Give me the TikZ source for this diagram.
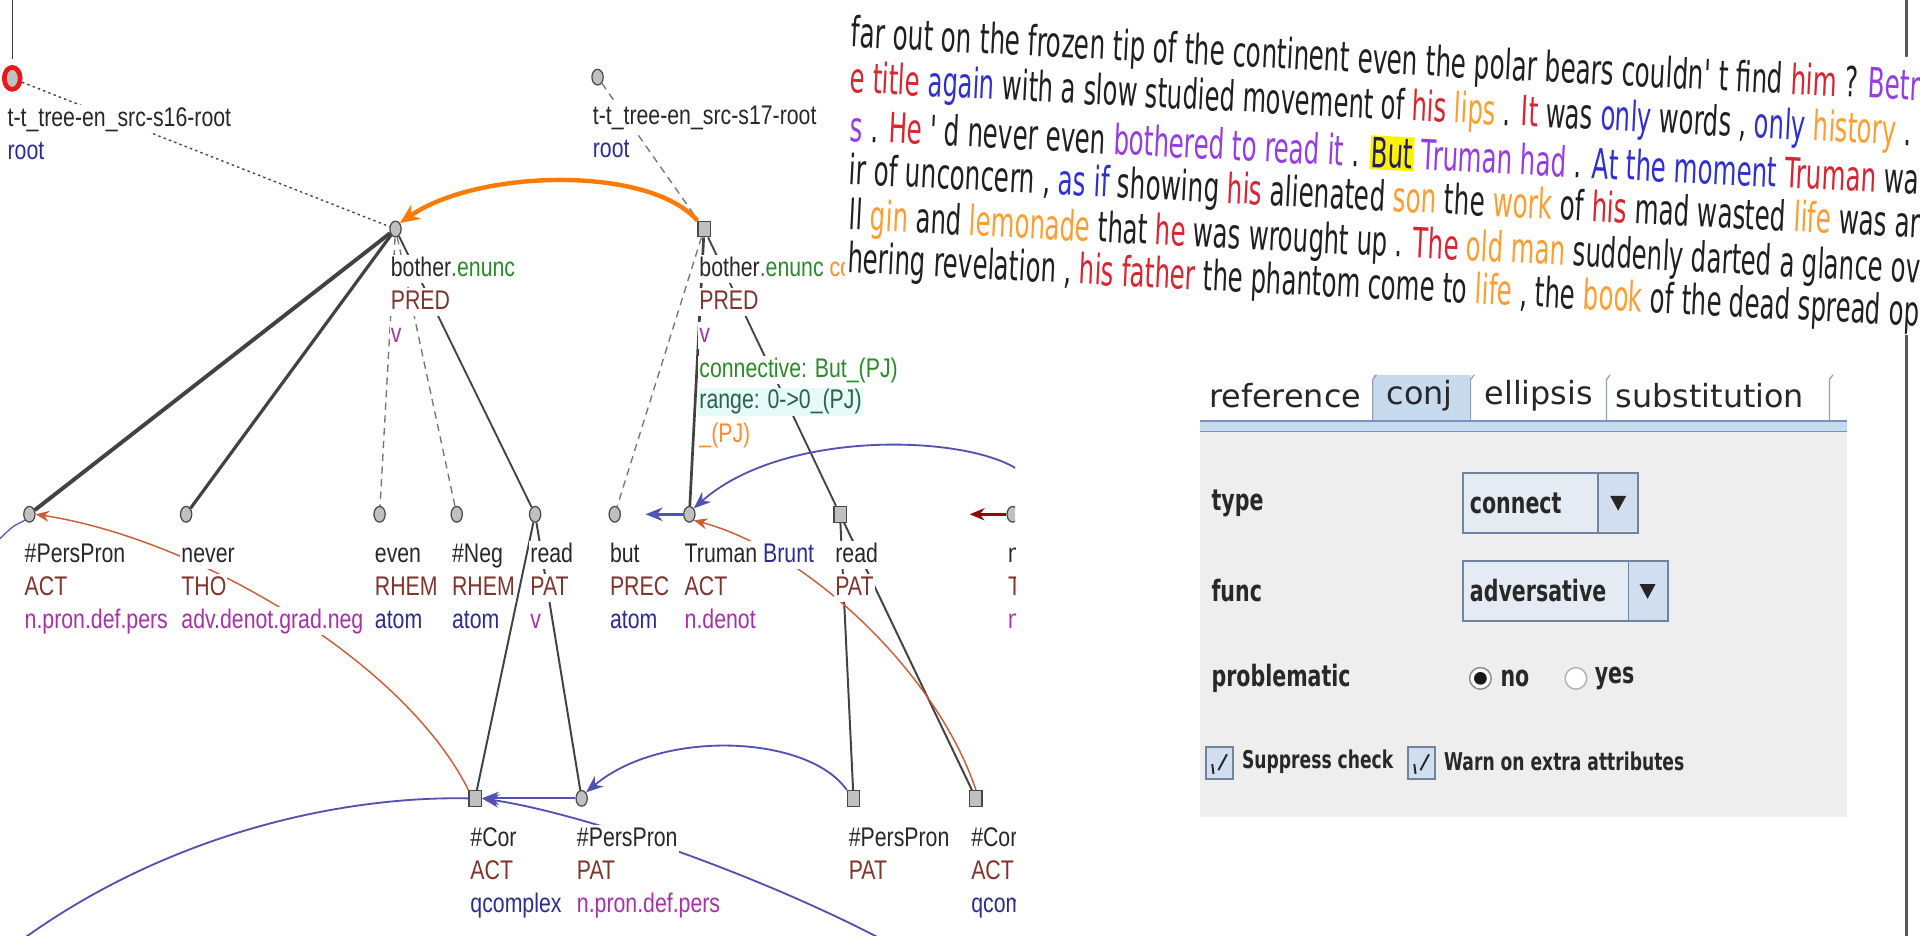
\documentclass[tikz,border=0pt]{standalone}
\usepackage{fontspec}
\usepackage{graphicx}
\setmainfont{Liberation Sans}
\newfontfamily\treefont{Liberation Sans}[FakeStretch=0.79]
\newfontfamily\panelfont{DejaVu Sans}
\newfontfamily\guifont{DejaVu Sans}[FakeStretch=0.7]
\newfontfamily\tabfont{DejaVu Sans}
\usetikzlibrary{shapes.geometric,arrows.meta}

% tree colours
\definecolor{edgegrey}{RGB}{66,66,66}
\definecolor{dashgrey}{RGB}{118,118,118}
\definecolor{nodegrey}{RGB}{192,192,192}
\definecolor{nodeborder}{RGB}{72,72,72}
\definecolor{lblblack}{RGB}{40,40,40}
\definecolor{functor}{RGB}{128,52,44}
\definecolor{sempos}{RGB}{168,48,168}
\definecolor{navy}{RGB}{44,44,150}
\definecolor{enuncgreen}{RGB}{40,140,40}
\definecolor{connorange}{RGB}{255,122,0}
\definecolor{pjorange}{RGB}{255,140,50}
\definecolor{corefbrown}{RGB}{205,95,55}
\definecolor{corefblue}{RGB}{82,82,180}
\definecolor{darkred}{RGB}{140,10,10}
\definecolor{rangebg}{RGB}{230,250,250}
\definecolor{rangegreen}{RGB}{40,100,70}
\definecolor{rootred}{RGB}{232,24,24}
% running text colours
\definecolor{txtblack}{RGB}{32,32,32}
\definecolor{txtred}{RGB}{218,36,48}
\definecolor{txtorange}{RGB}{255,158,48}
\definecolor{txtblue}{RGB}{48,48,210}
\definecolor{txtpurple}{RGB}{150,60,230}
\definecolor{butcol}{RGB}{30,30,100}
% form colours
\definecolor{guibg}{RGB}{238,238,238}
\definecolor{guitext}{RGB}{40,40,40}
\definecolor{tabblue}{RGB}{200,218,238}
\definecolor{tabline}{RGB}{118,148,190}
\definecolor{tabsep}{RGB}{150,160,176}
\definecolor{comboborder}{RGB}{112,132,160}
\definecolor{combofill}{RGB}{228,235,243}
\definecolor{buttonfill}{RGB}{208,222,240}
\definecolor{bordergrey}{RGB}{88,88,88}

\newcommand\wred[1]{\textcolor{txtred}{#1}}
\newcommand\worg[1]{\textcolor{txtorange}{#1}}
\newcommand\wblu[1]{\textcolor{txtblue}{#1}}
\newcommand\wpur[1]{\textcolor{txtpurple}{#1}}

\tikzset{
  tnode/.style={ellipse, draw=nodeborder, fill=nodegrey, line width=0.5pt,
    minimum width=4.6pt, minimum height=6.4pt, inner sep=0pt},
  tsq/.style={rectangle, draw=nodeborder, fill=nodegrey, line width=0.5pt,
    minimum width=5pt, minimum height=6.4pt, inner sep=0pt},
  rootnode/.style={ellipse, draw=rootred, fill=nodegrey, line width=1.9pt,
    minimum width=6.5pt, minimum height=9pt, inner sep=0pt},
  lbl/.style={anchor=west, fill=white, inner sep=0.4pt, text=lblblack,
    font=\treefont\fontsize{11}{12}\selectfont, text height=8.3pt, text depth=2.3pt},
  edge/.style={draw=edgegrey, line width=0.8pt},
  dashedge/.style={draw=dashgrey, line width=0.55pt, dash pattern=on 3pt off 2.2pt},
  dotedge/.style={draw=edgegrey, line width=0.55pt, dash pattern=on 1pt off 1.3pt},
  connarrow/.style={draw=connorange, line width=1.8pt, -{Stealth[length=8pt,width=7pt]}},
  brownarrow/.style={draw=corefbrown, line width=0.6pt, -{Stealth[length=5.5pt,width=4.5pt]}},
  bluearrow/.style={draw=corefblue, line width=0.75pt, -{Stealth[length=7pt,width=5.5pt]}},
  blueline/.style={draw=corefblue, line width=0.75pt},
  redarrow/.style={draw=darkred, line width=1pt, -{Stealth[length=6pt,width=5pt]}},
  panelline/.style={anchor=west, rotate=-2.87, inner sep=0pt, text=txtblack,
    font=\panelfont\fontsize{17}{20}\selectfont},
  guilbl/.style={anchor=west, inner sep=0pt, text=guitext,
    font=\guifont\bfseries\fontsize{12}{14}\selectfont},
  guismall/.style={anchor=west, inner sep=0pt, text=guitext,
    font=\guifont\bfseries\fontsize{10}{12}\selectfont},
  tabtxt/.style={anchor=west, inner sep=0pt, text=guitext,
    font=\tabfont\fontsize{13}{15}\selectfont},
}

% three text rows under a tree node: word, functor, semantic class
\newcommand\labthree[4]{%
  \node[lbl] (#1-a) at ([xshift=-2.5pt,yshift=-16.5pt]#1.center) {#2};
  \node[lbl] (#1-b) at ([xshift=-2.5pt,yshift=-30pt]#1.center) {\color{functor}#3};
  \node[lbl] (#1-c) at ([xshift=-2.5pt,yshift=-43.5pt]#1.center) {#4};}
\newcommand\labtwo[3]{%
  \node[lbl] (#1-a) at ([xshift=-2.5pt,yshift=-16.5pt]#1.center) {#2};
  \node[lbl] (#1-b) at ([xshift=-2.5pt,yshift=-30pt]#1.center) {#3};}

\begin{document}
\begin{tikzpicture}[x=0.5pt,y=-0.5pt]
\useasboundingbox (0,0) rectangle (1568,764);
\fill[white] (0,0) rectangle (1568,764);

% ---------------- dependency trees ----------------
\begin{scope}
\clip (0,0) rectangle (829,764);

% nodes
\node[rootnode] (s16) at (10,64) {};
\node[tnode] (s17) at (488,63) {};
\node[tnode] (b1) at (323,187) {};
\node[tsq] (b2) at (575,187) {};
\node[tnode] (pp1) at (24,420) {};
\node[tnode] (nev) at (152,420) {};
\node[tnode] (evn) at (310,420) {};
\node[tnode] (neg) at (373,420) {};
\node[tnode] (rd1) at (437,420) {};
\node[tnode] (but) at (502,420) {};
\node[tnode] (tru) at (563,420) {};
\node[tsq] (rd2) at (686,420) {};
\node[tnode] (rn) at (827,420) {};
\node[tsq] (cor1) at (388,652) {};
\node[tnode] (pp3) at (475,652) {};
\node[tsq] (pp2) at (697,652) {};
\node[tsq] (cor2) at (797,652) {};

\coordinate (topbar) at (10,0);
\coordinate (topbarend) at (10,48);
\draw[edge, line width=0.5pt] (topbar) -- (topbarend);

% tree edges
\draw[dotedge] (s16) -- (b1);
\draw[dashedge] (s17) -- (b2);
\draw[edge, line width=1.6pt] (b1) -- (pp1);
\draw[edge, line width=1.3pt] (b1) -- (nev);
\draw[dashedge] (b1) -- (evn);
\draw[dashedge] (b1) -- (neg);
\draw[edge, line width=0.75pt] (b1) -- (rd1);
\draw[dashedge] (b2) -- (but);
\draw[edge, line width=1.1pt] (b2) -- (tru);
\draw[edge, line width=0.75pt] (b2) -- (rd2);
\draw[edge] (rd1) -- (cor1);
\draw[edge] (rd1) -- (pp3);
\draw[edge] (rd2) -- (pp2);
\draw[edge] (rd2) -- (cor2);

% discourse connective and coreference arrows
\draw[connarrow] (b2.north west) .. controls (530,135) and (390,138) .. (b1.north east);
\draw[brownarrow] (cor1.north west) .. controls (330,540) and (160,440) .. (pp1.east);
\draw[brownarrow] (cor2.north) .. controls (765,550) and (660,450) .. (tru.south east);
\draw[bluearrow, line width=1.3pt] (tru.west) -- ([xshift=10pt]but.east);
\coordinate (offR) at (832,384);
\draw[bluearrow] (offR) .. controls (790,355) and (640,350) .. (tru.north east);
\coordinate (offBL) at (20,766);
\draw[blueline] (offBL) .. controls (140,680) and (280,650) .. (cor1.west);
\coordinate (offBR) at (718,766);
\draw[bluearrow] (offBR) .. controls (620,715) and (480,665) .. (cor1.east);
\draw[bluearrow] (pp3.west) -- (cor1.east);
\draw[bluearrow] (pp2.north west) .. controls (660,600) and (540,595) .. (pp3.north east);
\coordinate (offL) at (0,440);
\draw[blueline, line width=0.5pt] (offL) .. controls (10,430) .. (pp1.south west);
\coordinate (redtip) at (792,420);
\draw[redarrow] (rn.west) -- (redtip);

% node labels
\labtwo{s16}{t-t\_tree-en\_src-s16-root}{\color{navy}root}
\labtwo{s17}{t-t\_tree-en\_src-s17-root}{\color{navy}root}
\labthree{b1}{bother\textcolor{enuncgreen}{.enunc}}{PRED}{\color{sempos}v}
\labthree{b2}{bother\textcolor{enuncgreen}{.enunc} \textcolor{pjorange}{co}}{PRED}{\color{sempos}v}
\node[lbl, text=enuncgreen] (b2-d) at ([xshift=-2.5pt,yshift=-57.5pt]b2.center) {connective: But\_(PJ)};
\node[lbl, fill=rangebg, text=rangegreen] (b2-e) at ([xshift=-2.5pt,yshift=-70.5pt]b2.center) {range: 0->0\_(PJ)};
\node[lbl, text=pjorange] (b2-f) at ([xshift=-2.5pt,yshift=-84pt]b2.center) {\_(PJ)};
\labthree{pp1}{\#PersPron}{ACT}{\color{sempos}n.pron.def.pers}
\labthree{nev}{never}{THO}{\color{sempos}adv.denot.grad.neg}
\labthree{evn}{even}{RHEM}{\color{navy}atom}
\labthree{neg}{\#Neg}{RHEM}{\color{navy}atom}
\labthree{rd1}{read}{PAT}{\color{sempos}v}
\labthree{but}{but}{PREC}{\color{navy}atom}
\labthree{tru}{Truman \textcolor{navy}{Brunt}}{ACT}{\color{sempos}n.denot}
\labtwo{rd2}{read}{\color{functor}PAT}
\labthree{rn}{n}{T}{\color{sempos}n}
\labthree{cor1}{\#Cor}{ACT}{\color{navy}qcomplex}
\labthree{pp3}{\#PersPron}{PAT}{\color{sempos}n.pron.def.pers}
\labtwo{pp2}{\#PersPron}{\color{functor}PAT}
\labthree{cor2}{\#Cor}{ACT}{\color{navy}qcomplex}
\end{scope}

% window border on the right
\coordinate (bordertop) at (1557,0);
\coordinate (borderbot) at (1557,764);
\draw[bordergrey, line width=1pt] (bordertop) -- (borderbot);

% ---------------- running text ----------------
\fill[white] (690,3) -- (1568,47) -- (1568,274) -- (690,230) -- cycle;
\begin{scope}
\clip (690,3) -- (1568,47) -- (1568,274) -- (690,230) -- cycle;
\node[panelline] (line1) at (695,29) {\resizebox{437pt}{\height}{far out on the frozen tip of the continent even the polar bears couldn{'} t find \wred{him} ? \wpur{Betr}}};
\node[panelline] (line2) at (694,66) {\resizebox{434pt}{\height}{\wred{e title} \wblu{again} with a slow studied movement of \wred{his} \worg{lips} . \wred{It} was \wblu{only} words , \wblu{only} \worg{history} .}};
\node[panelline] (line3) at (694,103) {\resizebox{437pt}{\height}{\wpur{s} . \wred{He} {'} d never even \wpur{bothered to read it} . {\fboxsep=0.6pt\colorbox{yellow}{\textcolor{butcol}{But}}} \wpur{Truman had} . \wblu{At the moment} \wred{Truman} wa}};
\node[panelline] (line4) at (693,141) {\resizebox{438pt}{\height}{ir of unconcern , \wblu{as if} showing \wred{his} alienated \worg{son} the \worg{work} of \wred{his} mad wasted \worg{life} was ar}};
\node[panelline] (line5) at (693,178) {\resizebox{438pt}{\height}{ll \worg{gin} and \worg{lemonade} that \wred{he} was wrought up . \wred{The} \worg{old man} suddenly darted a glance ov}};
\node[panelline] (line6) at (692,213) {\resizebox{438pt}{\height}{hering revelation , \wred{his father} the phantom come to \worg{life} , the \worg{book} of the dead spread op}};
\end{scope}

% ---------------- annotation form ----------------
\fill[tabblue] (1121,306) rectangle (1201,345);
\draw[tabsep, line width=0.5pt] (1121,343) -- (1121,310) -- (1124,306);
\draw[tabsep, line width=0.5pt] (1201,343) -- (1201,310) -- (1204,306);
\draw[tabsep, line width=0.5pt] (1312,343) -- (1312,310) -- (1315,306);
\draw[tabsep, line width=0.5pt] (1494,343) -- (1494,310) -- (1497,306);
\node[tabtxt] (tabref) at (987,323) {reference};
\node[tabtxt] (tabconj) at (1132,323) {conj};
\node[tabtxt] (tabell) at (1212,323) {ellipsis};
\node[tabtxt] (tabsub) at (1319,323) {substitution};
\draw[tabline, line width=0.7pt] (980,344) -- (1508,344);
\fill[tabblue] (980,345) rectangle (1508,352);
\draw[tabline, line width=0.5pt] (980,352.5) -- (1508,352.5);
\fill[guibg] (980,353) rectangle (1508,667);

\node[guilbl] (ltype) at (989,411) {type};
\node[guilbl] (lfunc) at (989,482) {func};
\node[guilbl] (lprob) at (989,554) {problematic};

% type combo box
\draw[comboborder, fill=combofill, line width=0.8pt] (1195,386) rectangle (1338,435);
\fill[buttonfill] (1305,387) rectangle (1337,434);
\draw[comboborder, line width=0.6pt] (1305,386) -- (1305,435);
\fill[black!85] (1315,405) -- (1328,405) -- (1321.5,417) -- cycle;
\node[guilbl] (vtype) at (1200,411) {connect};

% func combo box
\draw[comboborder, fill=combofill, line width=0.8pt] (1195,458) rectangle (1362,507);
\fill[buttonfill] (1330,459) rectangle (1361,506);
\draw[comboborder, line width=0.6pt] (1330,458) -- (1330,507);
\fill[black!85] (1339,477) -- (1352,477) -- (1345.5,489) -- cycle;
\node[guilbl] (vfunc) at (1200,482) {adversative};

% radio buttons
\draw[black!45, fill=white, line width=0.6pt] (1209,554) circle (4.4pt);
\fill[black!90] (1209,554) circle (2.6pt);
\node[guilbl] (rno) at (1225,554) {no};
\draw[black!30, fill=white, line width=0.6pt] (1287,554) circle (4.4pt);
\node[guilbl] (ryes) at (1302,554) {yes};

% check boxes
\draw[comboborder, fill=buttonfill, line width=0.6pt] (985,610) rectangle (1007,636);
\draw[guitext, line width=0.8pt] (990,624) -- (991,632) (995,629) -- (1002,616);
\node[guismall] (csup) at (1014,622) {Suppress check};
\draw[comboborder, fill=buttonfill, line width=0.6pt] (1150,610) rectangle (1172,636);
\draw[guitext, line width=0.8pt] (1155,624) -- (1156,632) (1160,629) -- (1167,616);
\node[guismall] (cwarn) at (1179,622) {Warn on extra attributes};
\end{tikzpicture}
\end{document}
